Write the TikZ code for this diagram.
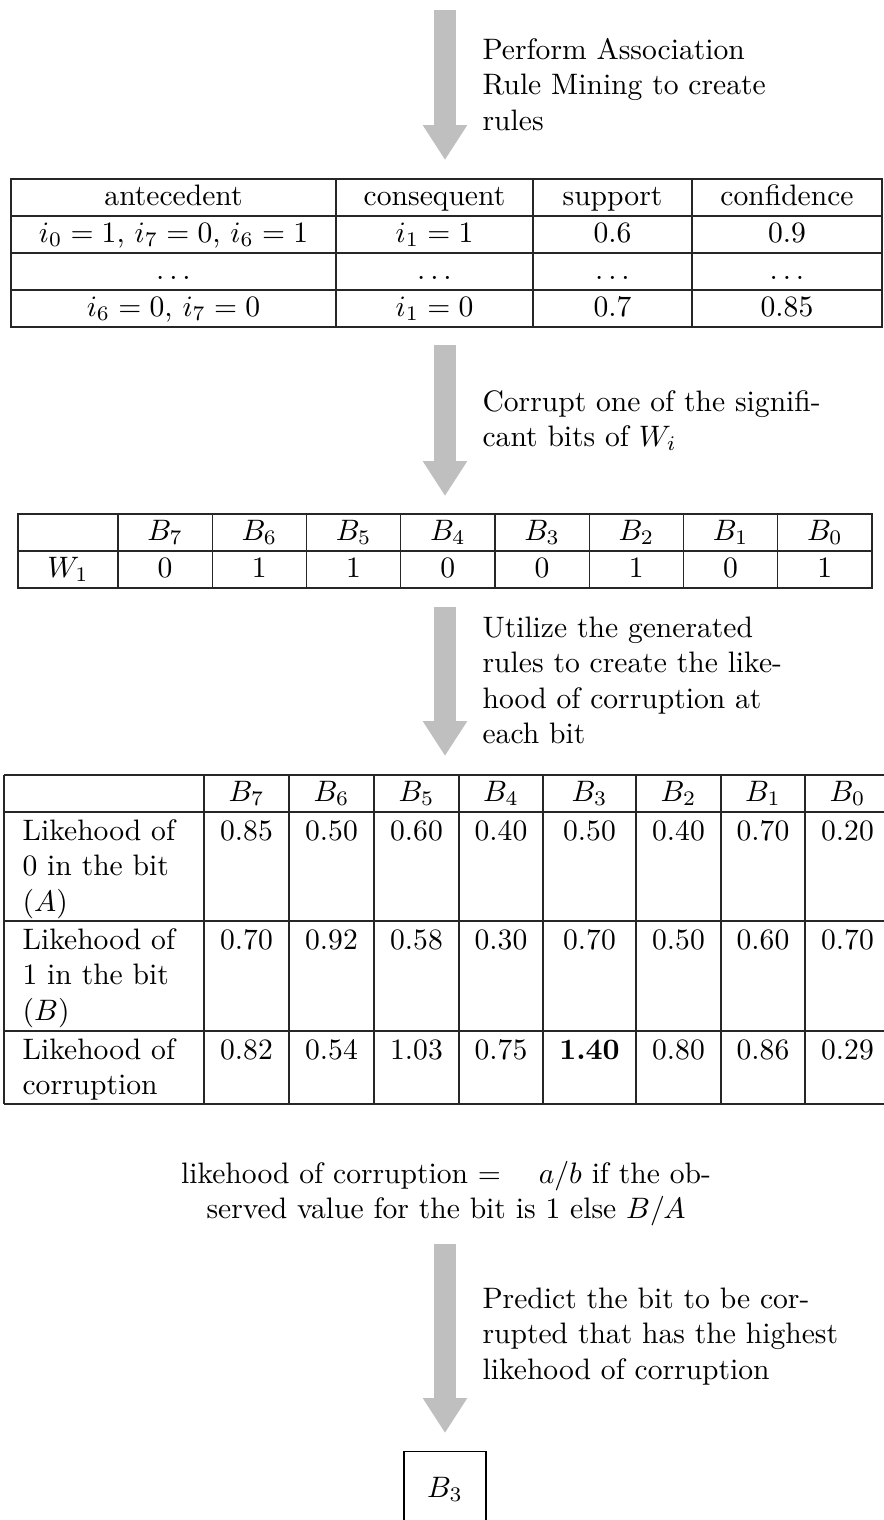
\documentclass[tikz,border=0pt]{standalone}
\usetikzlibrary{arrows.meta}
\begin{document}
\begin{tikzpicture}[x=0.338pt,y=-0.338pt,
  flow/.style={line width=7.77pt, draw=black!25, -{Triangle[width=14.2pt,length=11.8pt,fill=black!25]}},
  note/.style={anchor=base west, align=left, inner sep=0pt},
  cell/.style={anchor=base, inner sep=0pt},
  rowhead/.style={anchor=base west, align=left, inner sep=0pt},
  tline/.style={line width=0.4pt, draw=black!85}]
\useasboundingbox (0,0) rectangle (884,1520);

% multi-line nodes: the base anchor is the baseline of the LAST line (12pt = 35.5 units per line)

% ---------- arrow 1 ----------
\coordinate (a1s) at (445,10);
\coordinate (a1e) at (445,160);
\draw[flow] (a1s) -- (a1e);
\node[note] (n1) at (482,130) {Perform Association\\Rule Mining to create\\rules};

% ---------- table 1 ----------
\draw[tline] (11,179) rectangle (882,327);
\foreach \y in {216,253,290} \draw[tline] (11,\y) -- (882,\y);
\foreach \x in {336,533,692} \draw[tline] (\x,179) -- (\x,327);
\node[cell] (t1a) at (173.5,205) {antecedent};
\node[cell] (t1b) at (434.5,205) {consequent};
\node[cell] (t1c) at (612.5,205) {support};
\node[cell] (t1d) at (787,205) {confidence};
\node[cell] (t1e) at (173.5,242) {$i_0=1$, $i_7=0$, $i_6=1$};
\node[cell] (t1f) at (434.5,242) {$i_1=1$};
\node[cell] (t1g) at (612.5,242) {0.6};
\node[cell] (t1h) at (787,242) {0.9};
\node[cell] (t1i) at (173.5,279) {$\dots$};
\node[cell] (t1j) at (434.5,279) {$\dots$};
\node[cell] (t1k) at (612.5,279) {$\dots$};
\node[cell] (t1l) at (787,279) {$\dots$};
\node[cell] (t1m) at (173.5,316) {$i_6=0$, $i_7=0$};
\node[cell] (t1n) at (434.5,316) {$i_1=0$};
\node[cell] (t1o) at (612.5,316) {0.7};
\node[cell] (t1p) at (787,316) {0.85};

% ---------- arrow 2 ----------
\coordinate (a2s) at (445,345);
\coordinate (a2e) at (445,496);
\draw[flow] (a2s) -- (a2e);
\node[note] (n2) at (482,446.5) {Corrupt one of the signifi-\\cant bits of $W_i$};

% ---------- table 2 ----------
\draw[tline] (18,514) rectangle (872,588);
\draw[tline] (18,551) -- (872,551);
\foreach \k in {0,...,7} \draw[tline] ({118+94.25*\k},514) -- ({118+94.25*\k},588);
\node[cell] (t2w) at (68,577) {$W_1$};
\foreach \lab [count=\k from 0] in {7,6,5,4,3,2,1,0}
  \node[cell] (t2h\k) at ({118+94.25*(\k+0.5)},540) {$B_{\lab}$};
\foreach \v [count=\k from 0] in {0,1,1,0,0,1,0,1}
  \node[cell] (t2v\k) at ({118+94.25*(\k+0.5)},577) {\v};

% ---------- arrow 3 ----------
\coordinate (a3s) at (445,607);
\coordinate (a3e) at (445,756);
\draw[flow] (a3s) -- (a3e);
\node[note] (n3) at (482,743.5) {Utilize the generated\\rules to create the like-\\hood of corruption at\\each bit};

% ---------- table 3 ----------
\foreach \y in {775,812,921,1031,1104} \draw[tline] (4,\y) -- (895,\y);
\foreach \x in {4,204,289,374,459,543,636,721,805,890} \draw[tline] (\x,775) -- (\x,1104);
\foreach \lab/\cx [count=\k] in {7/246.5,6/331.5,5/416.5,4/501,3/589.5,2/678.5,1/763,0/847.5}
  \node[cell] (t3h\k) at (\cx,801) {$B_{\lab}$};
\node[rowhead] (t3ra) at (22,911) {Likehood of\\0 in the bit\\$(A)$};
\node[rowhead] (t3rb) at (22,1020) {Likehood of\\1 in the bit\\$(B)$};
\node[rowhead] (t3rc) at (22,1094.5) {Likehood of\\corruption};
\foreach \v/\cx [count=\k] in {0.85/246.5,0.50/331.5,0.60/416.5,0.40/501,0.50/589.5,0.40/678.5,0.70/763,0.20/847.5}
  \node[cell] (t3a\k) at (\cx,840) {\v};
\foreach \v/\cx [count=\k] in {0.70/246.5,0.92/331.5,0.58/416.5,0.30/501,0.70/589.5,0.50/678.5,0.60/763,0.70/847.5}
  \node[cell] (t3b\k) at (\cx,949) {\v};
\foreach \v/\cx [count=\k] in {0.82/246.5,0.54/331.5,1.03/416.5,0.75/501,\textbf{1.40}/589.5,0.80/678.5,0.86/763,0.29/847.5}
  \node[cell] (t3c\k) at (\cx,1059) {\v};

% ---------- formula ----------
\node[anchor=base, align=center, inner sep=0pt] (form) at (446,1218.5)
  {likehood of corruption $=\quad a/b$ if the ob-\\served value for the bit is 1 else $B/A$};

% ---------- arrow 4 ----------
\coordinate (a4s) at (445,1244);
\coordinate (a4e) at (445,1433);
\draw[flow] (a4s) -- (a4e);
\node[note] (n4) at (482,1379) {Predict the bit to be cor-\\rupted that has the highest\\likehood of corruption};

% ---------- result ----------
\node[draw, line width=0.4pt, anchor=north, minimum width=27.7pt, minimum height=25.7pt, inner sep=0pt] (res) at (445,1451) {$B_3$};
\end{tikzpicture}
\end{document}
